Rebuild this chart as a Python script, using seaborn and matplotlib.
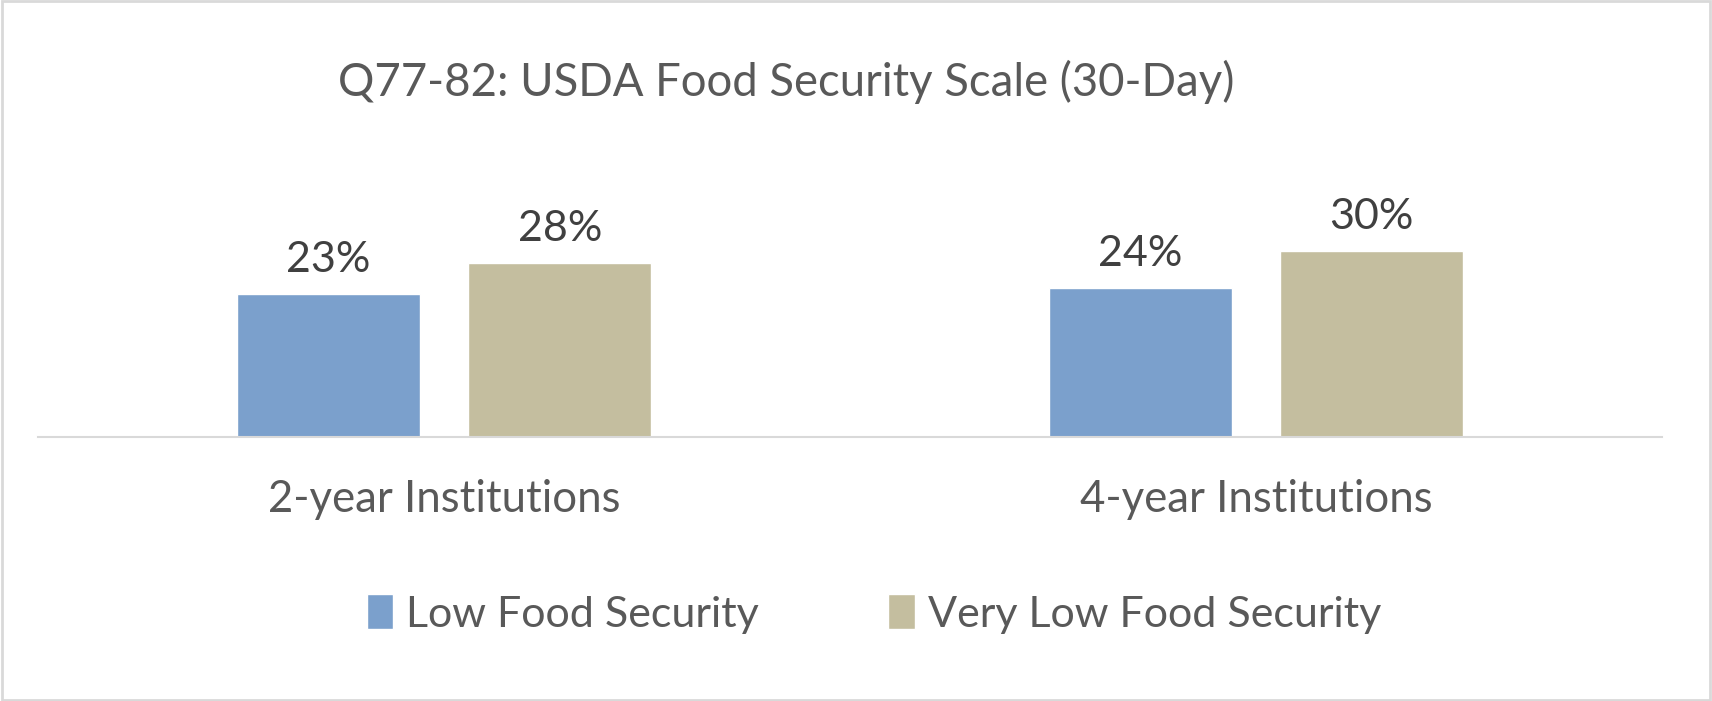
import matplotlib
matplotlib.use("Agg")
import matplotlib.pyplot as plt
import seaborn as sns
import pandas as pd
from matplotlib.patches import Rectangle

# data
categories = ["2-year Institutions", "4-year Institutions"]
low_food = [0.23, 0.24]
very_low_food = [0.28, 0.30]
series_names = ["Low Food Security", "Very Low Food Security"]

df = pd.DataFrame({
    "inst": categories * 2,
    "value": low_food + very_low_food,
    "series": [series_names[0]] * 2 + [series_names[1]] * 2,
})

sns.set_theme(style="white")
plt.rcParams["font.family"] = ["Lato", "DejaVu Sans"]

fig = plt.figure(figsize=(17.12, 7.01), dpi=100)
ax = fig.add_axes([38 / 1712, 1 - 437 / 701, 1624 / 1712, (437 - 120) / 701])

sns.barplot(data=df, x="inst", y="value", hue="series",
            palette=["#7BA0CC", "#C4BE9F"], saturation=1, width=0.57, gap=0.21,
            ax=ax, legend=True)

ax.set_xlim(-0.5, 1.5)
ax.set_ylim(0, (437 - 120) / 6.2 / 100)

for c in ax.containers:
    ax.bar_label(c, labels=["{:.0f}%".format(v * 100) for v in c.datavalues],
                 padding=11, fontsize=31, color="#404040")

ax.set_xlabel("")
ax.set_ylabel("")
ax.set_yticks([])
ax.tick_params(axis="x", length=0, pad=30, labelsize=31.5, labelcolor="#595959")
for s in ["top", "right", "left"]:
    ax.spines[s].set_visible(False)
ax.spines["bottom"].set_color("#D9D9D9")
ax.spines["bottom"].set_linewidth(1.5)

handles, labels = ax.get_legend_handles_labels()
ax.get_legend().remove()
fig.legend(handles, labels, loc="center", bbox_to_anchor=(874 / 1712, 1 - 614 / 701),
           ncol=2, frameon=False, fontsize=31, labelcolor="#595959",
           handlelength=0.62, handleheight=0.85, handletextpad=0.3, columnspacing=3.0)

fig.text(786 / 1712, 1 - 82 / 701, "Q77-82: USDA Food Security Scale (30-Day)",
         ha="center", va="center", fontsize=32.8, color="#595959")

# light frame around the whole chart
fig.patches.append(Rectangle((0.001, 0.002), 0.998, 0.996, transform=fig.transFigure,
                             fill=False, edgecolor="#D9D9D9", linewidth=2))

fig.savefig("out.png", dpi=100)
